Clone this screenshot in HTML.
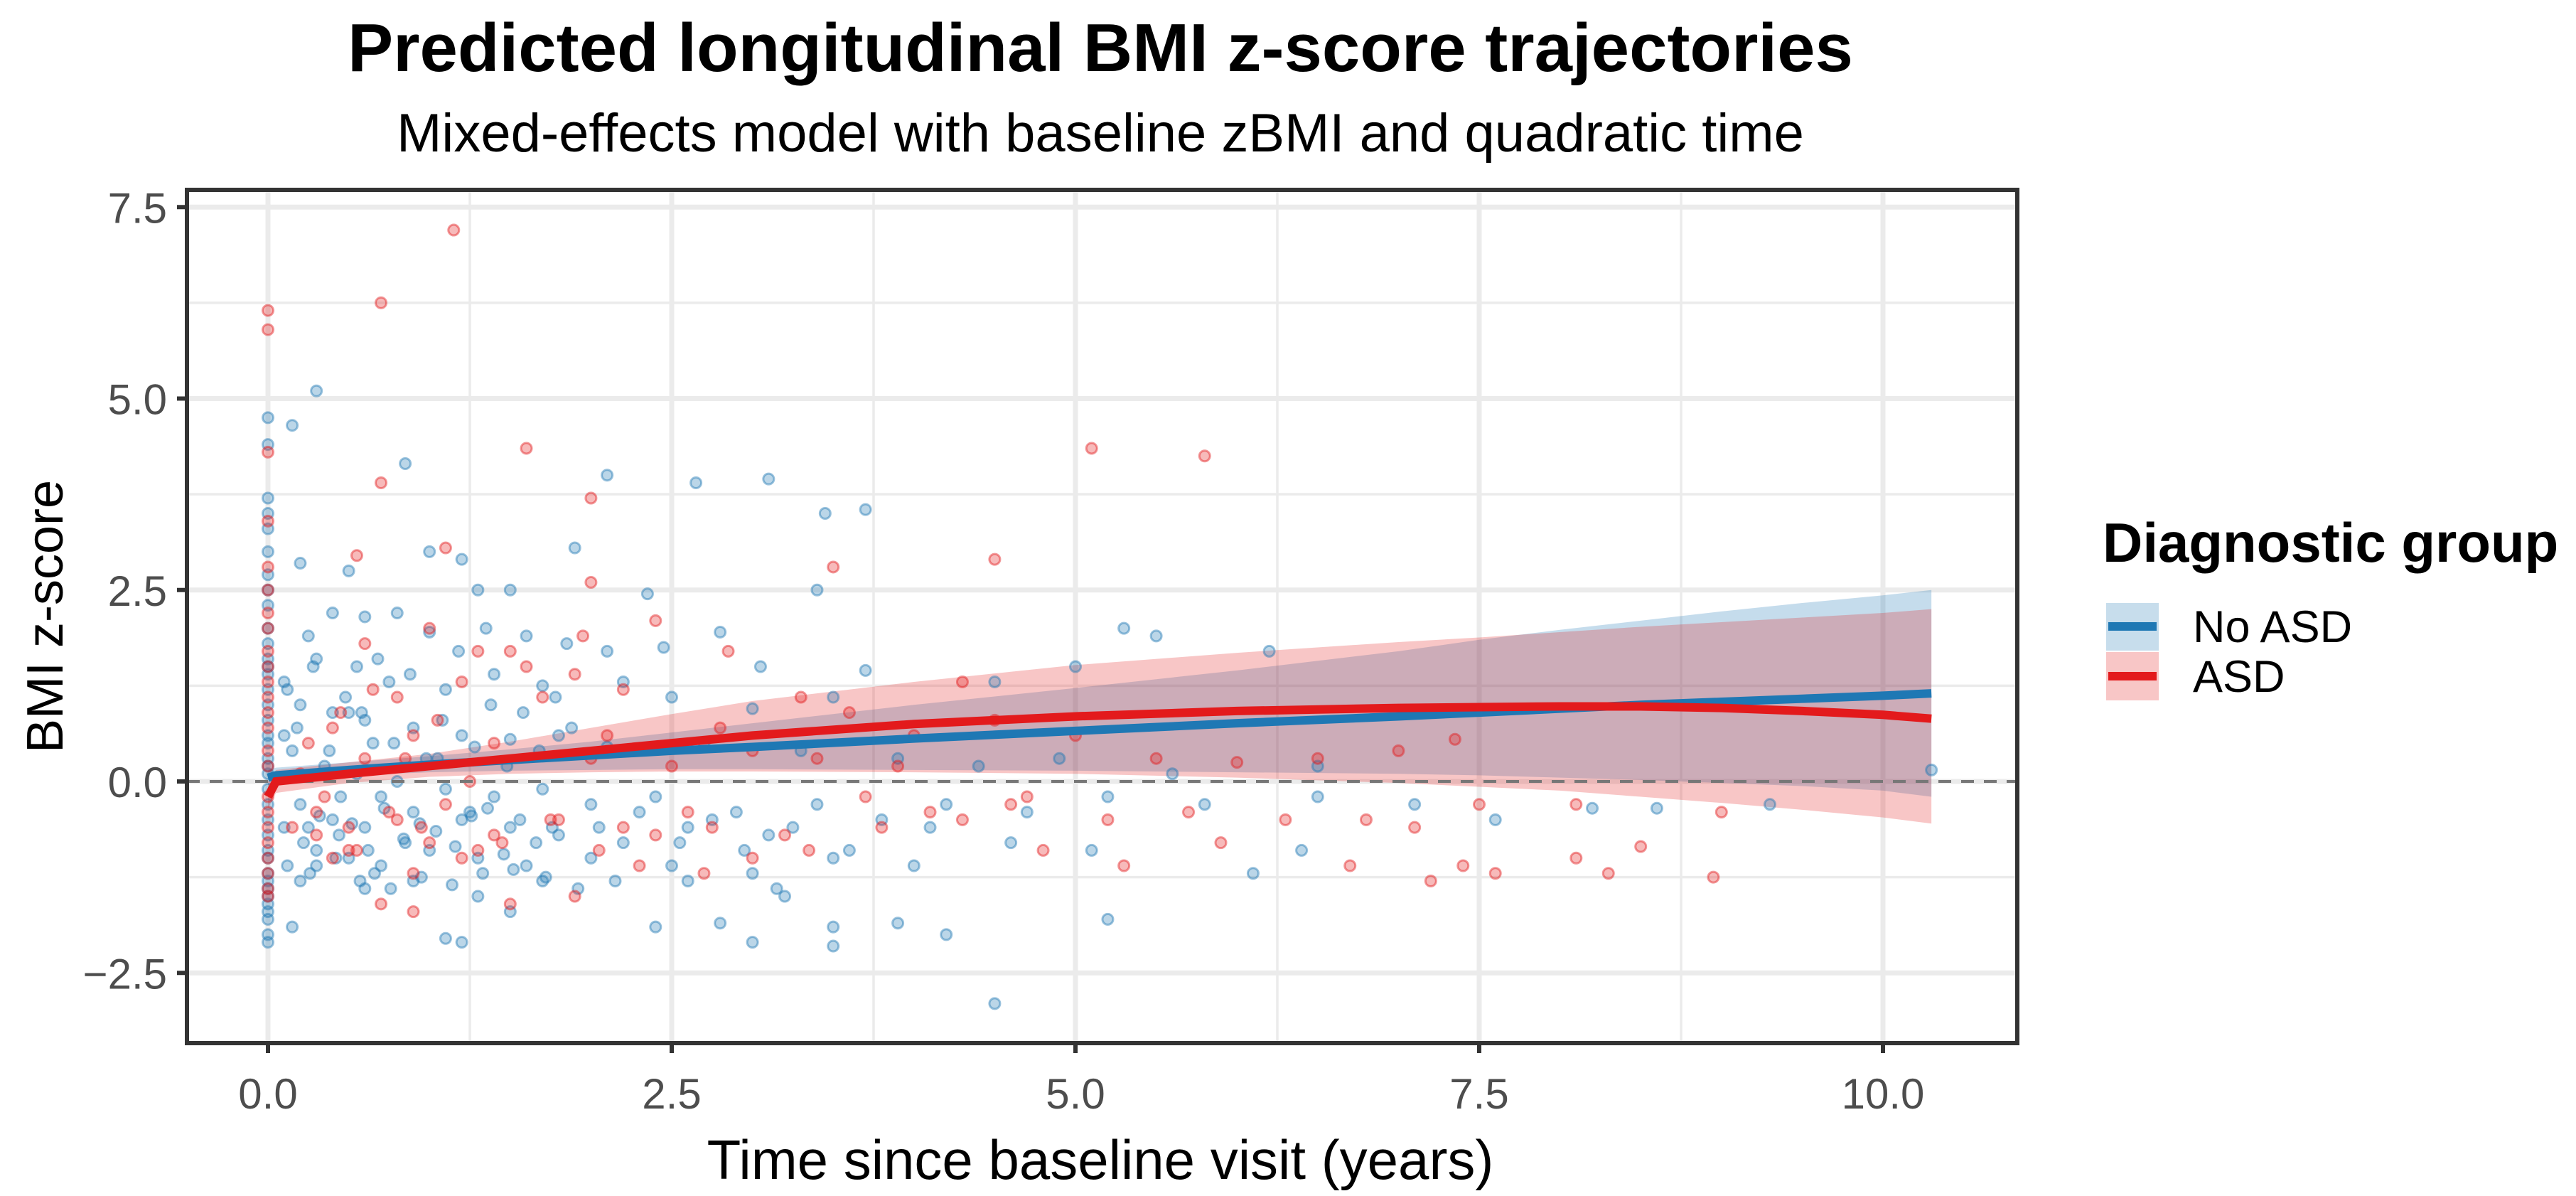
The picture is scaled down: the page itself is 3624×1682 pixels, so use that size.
<!DOCTYPE html>
<html><head><meta charset="utf-8"><style>
html,body{margin:0;padding:0;background:#fff;}
svg{display:block;font-family:"Liberation Sans",sans-serif;}
</style></head><body>
<svg id="chart" width="3624" height="1682" viewBox="0 0 3624 1682" xmlns="http://www.w3.org/2000/svg">
<text x="1548" y="100" text-anchor="middle" font-size="96" font-weight="bold" fill="#000">Predicted longitudinal BMI z-score trajectories</text>
<text x="1548" y="213" text-anchor="middle" font-size="76" fill="#000">Mixed-effects model with baseline zBMI and quadratic time</text>
<g id="grid"></g>
<g id="ribbons"></g>
<g id="points"></g>
<line x1="263" x2="2838" y1="1099" y2="1099" stroke="#777" stroke-width="4" stroke-dasharray="18,14"/>
<g id="lines"></g>
<rect x="263" y="267" width="2575" height="1200" fill="none" stroke="#333" stroke-width="6"/>
<g id="axes"></g>
<text x="1548" y="1658" text-anchor="middle" font-size="78" fill="#000">Time since baseline visit (years)</text>
<text transform="translate(88,867) rotate(-90)" text-anchor="middle" font-size="72" fill="#000">BMI z-score</text>
<g>
<text x="2958" y="790" font-size="78" font-weight="bold" fill="#000">Diagnostic group</text>
<g>
<rect x="2963" y="848" width="74" height="67" fill="rgba(31,120,180,0.25)"/>
<line x1="2966" x2="3034" y1="881" y2="881" stroke="#1f78b4" stroke-width="12"/>
<text x="3085" y="903" font-size="63" fill="#000">No ASD</text>
</g>
<g>
<rect x="2963" y="917" width="74" height="68" fill="rgba(227,26,28,0.25)"/>
<line x1="2966" x2="3034" y1="951" y2="951" stroke="#e31a1c" stroke-width="12"/>
<text x="3085" y="973" font-size="63" fill="#000">ASD</text>
</g>
</g>
</svg>
<script>
const xTicks=[0,2.5,5,7.5,10];
const xTickLabels=["0.0","2.5","5.0","7.5","10.0"];
const yTicks=[-2.5,0,2.5,5,7.5];
const yTickLabels=["\u22122.5","0.0","2.5","5.0","7.5"];
const fitTime=[0,0.05,0.5,1,1.5,2,2.5,3,4,5,6,7,7.5,8,8.5,9,9.5,10,10.3];
const noAsdFit=[0.05,0.08,0.15,0.22,0.28,0.34,0.40,0.45,0.56,0.66,0.76,0.85,0.90,0.95,1.00,1.04,1.08,1.12,1.15];
const noAsdLower=[-0.05,0.0,0.08,0.12,0.14,0.15,0.16,0.16,0.15,0.14,0.12,0.1,0.08,0.05,0.02,-0.02,-0.06,-0.12,-0.2];
const noAsdUpper=[0.15,0.18,0.25,0.33,0.42,0.52,0.64,0.76,1.0,1.22,1.45,1.7,1.85,1.98,2.1,2.22,2.33,2.43,2.5];
const asdFit=[-0.2,0.0,0.1,0.2,0.3,0.4,0.5,0.6,0.75,0.85,0.92,0.96,0.97,0.98,0.98,0.96,0.92,0.87,0.82];
const asdLower=[-0.35,-0.15,-0.02,0.06,0.1,0.12,0.13,0.13,0.12,0.1,0.05,-0.02,-0.07,-0.12,-0.2,-0.28,-0.37,-0.47,-0.55];
const asdUpper=[0.0,0.15,0.25,0.36,0.52,0.7,0.88,1.05,1.3,1.52,1.68,1.82,1.88,1.95,2.02,2.08,2.14,2.2,2.25];
const noAsdT=[0,0,0,0,0,0,0,0,0,0,0,0,0,0,0,0,0,0,0,0,0,0,0,0,0,0,0,0,0,0,0,0,0,0,0,0,0,
0.3,0.15,0.85,2.1,2.65,3.1,3.45,3.7,1.9,1.0,1.2,0.2,3.4,0.5,1.3,1.5,2.35,0.25,0.4,0.6,0.8,1.0,1.35,1.6,1.85,2.1,2.45,2.8,3.05,3.7,5.3,5.5,6.2,5.0,0.3,0.55,0.75,1.1,1.4,1.7,2.2,2.5,3.0,3.5,4.5,0.2,0.4,0.6,0.9,1.2,1.5,1.8,2.1,2.7,3.3,3.9,4.4,4.9,5.6,6.5,0.15,0.35,0.55,0.8,1.1,1.4,1.7,2.0,2.4,2.9,3.4,3.8,4.2,4.7,5.2,5.8,6.5,7.1,7.6,8.2,8.6,9.3,10.3,0.2,0.4,0.6,0.9,1.2,1.5,1.8,2.2,2.6,3.1,3.6,4.1,4.6,5.1,6.4,6.1,0.3,0.5,0.7,1.0,1.3,1.6,2.0,2.5,3.0,3.5,4.0,0.2,0.6,0.9,1.3,1.7,2.4,2.8,3.2,3.5,3.5,3.9,4.2,5.2,3.0,1.1,1.2,4.5,0.15,1.5,0.1,0.25,0.45,0.65,0.85,1.05,1.25,0.12,0.3,0.5,0.7,
0.1,0.18,0.28,0.38,0.48,0.58,0.68,0.78,0.88,0.98,1.08,1.18,1.28,1.38,1.48,1.58,1.68,1.78,1.88,0.1,0.22,0.32,0.44,0.52,0.62,0.72,0.84,0.94,1.04,1.16,1.26,1.36,1.46,1.56,1.66,1.76,2.05,2.3,2.55,2.75,2.95,3.25,0.12,0.26,0.42,0.57,0.66,0.76,0.95,1.14,1.33,1.52,1.72,1.92,2.15,2.6,3.15];
const noAsdZ=[4.75,4.4,3.7,3.5,3.3,3.0,2.7,2.5,2.3,2.0,1.8,1.6,1.5,1.4,1.2,1.0,0.8,0.6,0.5,0.3,0.2,0.1,-0.1,-0.3,-0.5,-0.7,-0.9,-1.0,-1.2,-1.3,-1.4,-1.5,-1.6,-1.7,-1.8,-2.0,-2.1,
5.1,4.65,4.15,4.0,3.9,3.95,3.5,3.55,3.05,3.0,2.9,2.85,2.5,2.75,2.5,2.5,2.45,1.9,2.2,2.15,2.2,1.95,2.0,1.9,1.8,1.7,1.75,1.95,1.5,1.45,2.0,1.9,1.7,1.5,1.6,1.5,1.3,1.2,1.4,1.25,1.3,1.1,0.95,1.1,1.3,1.0,0.9,0.8,0.7,0.6,0.55,0.6,0.45,0.5,0.4,0.3,0.2,0.3,0.1,0.2,0.4,0.2,0.1,0.0,-0.1,-0.2,-0.1,-0.3,-0.2,-0.4,-0.3,-0.5,-0.3,-0.4,-0.2,-0.3,-0.2,-0.3,-0.5,-0.35,-0.35,-0.3,0.15,-0.3,-0.5,-0.6,-0.4,-0.5,-0.6,-0.7,-0.8,-0.6,-0.7,-0.9,-0.6,-0.8,-0.9,-0.9,-1.2,-0.9,-1.0,-1.1,-0.9,-1.0,-1.1,-1.0,-1.1,-1.2,-1.0,-1.1,-1.3,-1.4,-1.3,-1.5,-1.3,-1.9,-1.85,-1.5,-1.9,-2.15,-1.85,-2.0,-1.8,-2.1,-2.05,-2.1,-2.9,-1.9,-1.7,0.6,-0.6,-0.2,0.5,-0.8,0.3,-0.4,1.2,-1.1,0.9,-0.2,
1.3,0.7,1.5,0.4,1.1,0.9,1.6,0.5,1.4,0.3,0.8,1.7,0.45,1.0,0.2,0.9,0.4,1.1,0.7,-0.6,-0.8,-0.45,-0.7,-0.55,-0.9,-0.35,-0.75,-0.55,-0.65,-0.85,-0.45,-0.35,-0.95,-0.5,-0.8,-0.6,-0.6,-0.4,-0.8,-0.5,-0.9,-0.6,-1.1,-1.2,-1.0,-1.3,-1.2,-1.4,-1.25,-1.35,-1.2,-1.15,-1.25,-1.4,-1.3,-1.3,-1.4];
const asdT=[0,0,0,0,0,0,0,0,0,0,0,0,0,0,0,0,0,0,0,0,0,0,0,0,
1.15,0.7,0.7,1.6,2.0,5.1,5.8,1.1,0.55,4.5,3.5,1.0,2.0,2.4,1.95,0.6,1.5,2.85,1.6,1.9,1.2,0.8,2.2,3.3,3.6,4.3,4.5,2.8,0.4,0.9,1.4,2.0,2.5,3.0,3.4,3.9,4.0,5.0,5.5,6.0,6.5,7.0,7.35,0.3,0.5,0.8,1.1,1.4,1.8,2.2,2.6,3.2,3.7,4.1,4.3,4.8,5.3,5.9,6.7,7.4,7.6,8.1,8.3,8.5,8.95,7.1,7.2,6.3,5.7,0.4,0.9,1.3,1.9,2.3,2.7,3.0,0.7,0.9,1.5,4.7,5.2,7.5,8.1,9.0,0.2,0.35,0.6,1.0,1.25,0.15,0.5,
0.25,0.45,0.65,0.85,1.05,1.3,1.7,2.1,0.3,0.55,0.75,0.95,1.2,1.45,1.75,2.05,2.4,2.75,3.35,3.8,4.6,6.8];
const asdZ=[6.15,5.9,4.3,3.4,2.8,2.5,2.2,2.0,1.7,1.5,1.3,1.1,0.9,0.7,0.4,0.2,-0.2,-0.4,-0.6,-0.8,-1.0,-1.2,-1.4,-1.5,
7.2,6.25,3.9,4.35,3.7,4.35,4.25,3.05,2.95,2.9,2.8,2.0,2.6,2.1,1.9,1.8,1.7,1.7,1.5,1.4,1.3,1.1,1.2,1.1,0.9,1.3,0.8,0.7,0.7,0.6,0.5,0.3,0.2,0.4,0.3,0.2,0.6,0.6,0.3,0.25,0.3,0.4,0.55,-0.4,-0.6,-0.5,-0.3,-0.7,-0.5,-0.6,-0.4,-0.7,-0.2,-0.4,-0.5,-0.9,-1.1,-0.8,-1.1,-1.1,-1.2,-1.0,-1.2,-0.85,-1.25,-0.6,-1.3,-0.5,-0.4,-1.0,-1.2,-0.9,-1.5,-1.1,-1.2,-1.0,-1.6,-1.7,-1.6,-0.2,-0.5,-0.3,-0.3,-0.4,0.1,-0.2,0.3,-0.8,0.0,-0.6,-0.9,
0.5,0.9,1.2,0.3,0.8,1.7,1.1,0.6,-0.7,-0.9,-0.4,-0.6,-1.0,-0.8,-0.5,-0.9,-0.7,-0.6,-0.9,-0.6,-0.3,-0.5];

const NS="http://www.w3.org/2000/svg";
const PL=263,PR=2838,PT=267,PB=1467;
function xs(t){return 377+227.2*t;}
function ys(z){return 1099-107.7*z;}
function mk(tag,attrs,parent){const e=document.createElementNS(NS,tag);for(const k in attrs)e.setAttribute(k,attrs[k]);parent.appendChild(e);return e;}
const grid=document.getElementById('grid');
const bg=mk('rect',{x:PL,y:PT,width:PR-PL,height:PB-PT,fill:'#fff'},grid);


for(let i=0;i<yTicks.length-1;i++){const v=(yTicks[i]+yTicks[i+1])/2;const l=mk('line',{x1:PL,x2:PR,y1:ys(v),y2:ys(v),stroke:'#ebebeb','stroke-width':3.5},grid);

}
for(let i=0;i<xTicks.length-1;i++){const v=(xTicks[i]+xTicks[i+1])/2;const l=mk('line',{y1:PT,y2:PB,x1:xs(v),x2:xs(v),stroke:'#ebebeb','stroke-width':3.5},grid);

}
yTicks.forEach(v=>{const l=mk('line',{x1:PL,x2:PR,y1:ys(v),y2:ys(v),stroke:'#ebebeb','stroke-width':7},grid);

});
xTicks.forEach(v=>{const l=mk('line',{y1:PT,y2:PB,x1:xs(v),x2:xs(v),stroke:'#ebebeb','stroke-width':7},grid);

});
function linePath(tArr,vArr){let d='';for(let i=0;i<tArr.length;i++){d+=(i?'L':'M')+xs(tArr[i])+','+ys(vArr[i]);}return d;}
function ribbon(lo,hi){let d='M'+xs(fitTime[0])+','+ys(hi[0]);for(let i=1;i<fitTime.length;i++)d+='L'+xs(fitTime[i])+','+ys(hi[i]);for(let i=fitTime.length-1;i>=0;i--)d+='L'+xs(fitTime[i])+','+ys(lo[i]);return d+'Z';}
const rib=document.getElementById('ribbons');
const r1=mk('path',{d:ribbon(noAsdLower,noAsdUpper),fill:'rgba(31,120,180,0.26)'},rib);


const r2=mk('path',{d:ribbon(asdLower,asdUpper),fill:'rgba(227,26,28,0.25)'},rib);


const pts=document.getElementById('points');
function drawPts(T,Z,col,name){for(let i=0;i<T.length;i++){const c=mk('circle',{cx:xs(T[i]),cy:ys(Z[i]),r:7.5,fill:col,'fill-opacity':0.3,stroke:col,'stroke-opacity':0.45,'stroke-width':3},pts);

}}
drawPts(noAsdT,noAsdZ,'#1f78b4','point-no-asd');
drawPts(asdT,asdZ,'#e31a1c','point-asd');
const ln=document.getElementById('lines');
const l1=mk('path',{d:linePath(fitTime,noAsdFit),fill:'none',stroke:'#1f78b4','stroke-width':12},ln);


const l2=mk('path',{d:linePath(fitTime,asdFit),fill:'none',stroke:'#e31a1c','stroke-width':12},ln);


const ax=document.getElementById('axes');
xTicks.forEach((v,i)=>{const t=mk('line',{x1:xs(v),x2:xs(v),y1:PB,y2:PB+14,stroke:'#333','stroke-width':6},ax);


const lb=mk('text',{x:xs(v),y:PB+92,'text-anchor':'middle','font-size':60,fill:'#4d4d4d'},ax);lb.textContent=xTickLabels[i];

});
yTicks.forEach((v,i)=>{const t=mk('line',{x1:PL-14,x2:PL,y1:ys(v),y2:ys(v),stroke:'#333','stroke-width':6},ax);


const lb=mk('text',{x:PL-28,y:ys(v)+22,'text-anchor':'end','font-size':60,fill:'#4d4d4d'},ax);lb.textContent=yTickLabels[i];

});
</script>
</body></html>
